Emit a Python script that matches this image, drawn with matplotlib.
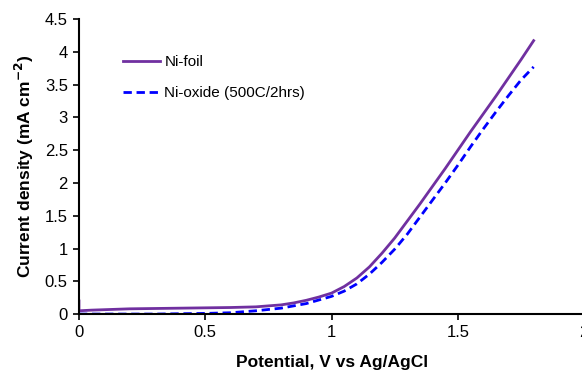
import matplotlib.pyplot as plt

plt.rcParams['font.family'] = ['Liberation Sans', 'DejaVu Sans']

# Ni-foil
foil_v = [0, 0, 0.05, 0.2, 0.4, 0.6, 0.7, 0.8, 0.85, 0.9, 0.95, 1.0, 1.05, 1.1,
          1.15, 1.2, 1.25, 1.3, 1.35, 1.4, 1.45, 1.5, 1.55, 1.6, 1.65, 1.7, 1.75, 1.8]
foil_j = [0.2, 0.05, 0.06, 0.08, 0.09, 0.10, 0.11, 0.14, 0.17, 0.21, 0.26, 0.32, 0.42, 0.55,
          0.72, 0.93, 1.16, 1.42, 1.68, 1.95, 2.22, 2.50, 2.78, 3.05, 3.32, 3.60, 3.88, 4.17]

# Ni-oxide (500C/2hrs)
oxide_v = [0, 0.3, 0.5, 0.6, 0.7, 0.8, 0.9, 1.0, 1.05, 1.1, 1.15, 1.2, 1.25, 1.3,
           1.35, 1.4, 1.45, 1.5, 1.55, 1.6, 1.65, 1.7, 1.75, 1.8]
oxide_j = [0.0, 0.0, 0.01, 0.02, 0.05, 0.09, 0.16, 0.27, 0.35, 0.46, 0.61, 0.79, 0.99, 1.22,
           1.48, 1.74, 2.0, 2.27, 2.55, 2.82, 3.08, 3.33, 3.57, 3.77]

xticks = [0, 0.5, 1, 1.5, 2]
xticklabels = ['0', '0.5', '1', '1.5', '2']
yticks = [0, 0.5, 1, 1.5, 2, 2.5, 3, 3.5, 4, 4.5]
yticklabels = ['0', '0.5', '1', '1.5', '2', '2.5', '3', '3.5', '4', '4.5']

fig = plt.figure(figsize=(5.82, 3.73), dpi=100)
ax = fig.add_axes([0.1357, 0.158, 0.868, 0.791])

ax.plot(foil_v, foil_j, color='#7030A0', lw=2, label='Ni-foil')
ax.plot(oxide_v, oxide_j, color='#0000FF', lw=2, ls=(0, (3, 1.7)), label='Ni-oxide (500C/2hrs)')

ax.set_xlim(0, 2)
ax.set_ylim(0, 4.5)
ax.set_xticks(xticks)
ax.set_xticklabels(xticklabels)
ax.set_yticks(yticks)
ax.set_yticklabels(yticklabels)
ax.tick_params(labelsize=12, width=1.2, length=4, pad=4)

for s in ['top', 'right']:
    ax.spines[s].set_visible(False)
for s in ['left', 'bottom']:
    ax.spines[s].set_linewidth(1.5)

ax.set_xlabel('Potential, V vs Ag/AgCl', fontsize=12.5, fontweight='bold', labelpad=10.5)
ax.set_ylabel('Current density (mA cm$^{\\mathbf{-2}}$)', fontsize=12.5, fontweight='bold', labelpad=6)

ax.legend(loc='upper left', bbox_to_anchor=(0.06, 0.925), frameon=False, fontsize=11,
          handlelength=2.4, labelspacing=1.15, handletextpad=0.3)

fig.savefig('out.png', dpi=100)
